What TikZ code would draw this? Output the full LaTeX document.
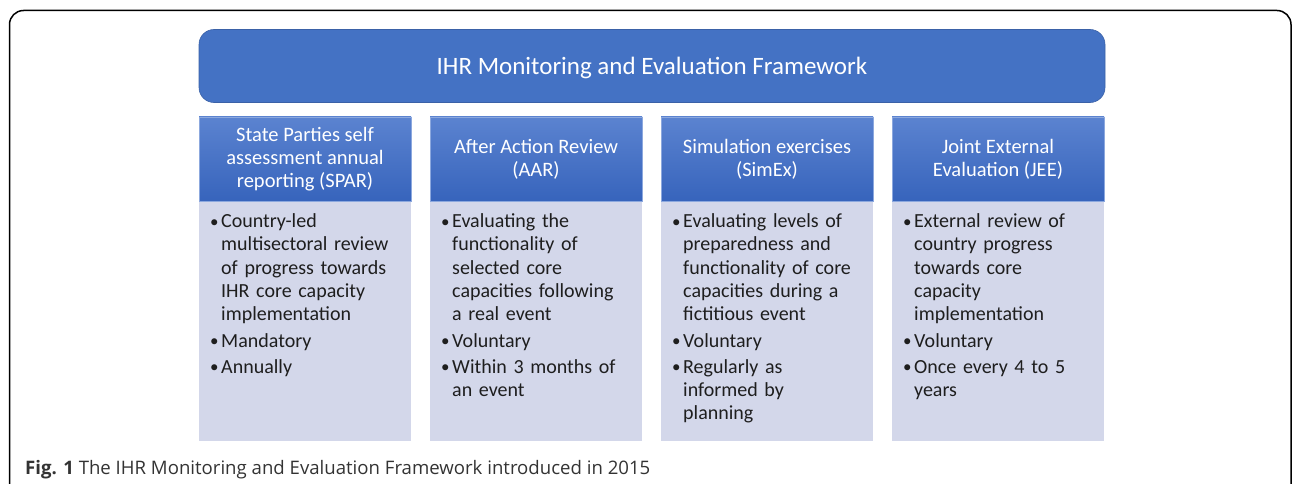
\documentclass[tikz,border=0pt]{standalone}
\usepackage{fontspec}
\setmainfont{Carlito}
\newfontfamily\capfont{Open Sans}
\definecolor{ihrblue}{HTML}{4472C4}
\definecolor{headtop}{HTML}{5B83D0}
\definecolor{headbot}{HTML}{3764BC}
\definecolor{bodyfill}{HTML}{D3D7EA}
\definecolor{bodytext}{HTML}{1E1E1E}
\definecolor{captext}{HTML}{333333}
\newcommand{\bitem}[1]{\par\hangindent=11pt\hangafter=1\noindent\makebox[11pt][l]{\raisebox{0.5pt}{\scalebox{0.85}{\textbullet}}}#1\par}
\tikzset{
  titlebox/.style={fill=ihrblue, draw=ihrblue!85!black, line width=0.6pt, rounded corners=15pt,
    minimum width=906pt, minimum height=73pt, text=white, font=\fontsize{25}{28}\selectfont},
  headbox/.style={top color=headtop, bottom color=headbot, draw=headtop!70!white, line width=0.4pt,
    minimum width=212pt, minimum height=84pt, text=white, align=center,
    font=\fontsize{20.5}{22.8}\selectfont},
  bodybox/.style={fill=bodyfill, minimum width=212pt, minimum height=240pt, inner sep=0pt},
  itemtext/.style={anchor=north west, inner sep=0pt, text width=196pt, align=left, text=bodytext,
    font=\fontsize{20}{23.3}\selectfont, execute at begin node={\setlength{\parskip}{3pt}}}
}
\begin{document}
\begin{tikzpicture}[x=1pt,y=-1pt]
\useasboundingbox (0,0) rectangle (1292,484);
\draw[line width=1.5pt, rounded corners=14pt] (9.5,520) -- (9.5,10.5) -- (1291,10.5) -- (1291,520);
\node[titlebox] (ttl) at (652,66) {};
\node[text=white, font=\fontsize{25}{28}\selectfont] (ttltext) at (652,68) {IHR Monitoring and Evaluation Framework};
\foreach \i/\hd in {1/{State Parties self\\assessment annual\\reporting (SPAR)},
                    2/{After Action Review\\(AAR)},
                    3/{Simulation exercises\\(SimEx)},
                    4/{Joint External\\Evaluation (JEE)}}{
  \node[bodybox] (b\i) at (231*\i+74,321) {};
  \node[headbox] (h\i) at (231*\i+74,159) {\hd};
}
\node[itemtext] (t1) at (210,201) {%
\bitem{Country-led\newline multisectoral review\newline of progress towards\newline IHR core capacity\newline implementation}
\bitem{Mandatory}
\bitem{Annually}};
\node[itemtext] (t2) at (441,201) {%
\bitem{Evaluating the\newline functionality of\newline selected core\newline capacities following\newline a real event}
\bitem{Voluntary}
\bitem{Within 3 months of\newline an event}};
\node[itemtext] (t3) at (672,201) {%
\bitem{Evaluating levels of\newline preparedness and\newline functionality of core\newline capacities during a\newline fictitious event}
\bitem{Voluntary}
\bitem{Regularly as\newline informed by\newline planning}};
\node[itemtext] (t4) at (903,201) {%
\bitem{External review of\newline country progress\newline towards core\newline capacity\newline implementation}
\bitem{Voluntary}
\bitem{Once every 4 to 5\newline years}};
\node[anchor=base west, inner sep=0pt, text=captext, font=\capfont\fontsize{18.6}{22}\selectfont] (cap) at (25,474)
  {\textbf{Fig. 1} The IHR Monitoring and Evaluation Framework introduced in 2015};
\end{tikzpicture}
\end{document}
